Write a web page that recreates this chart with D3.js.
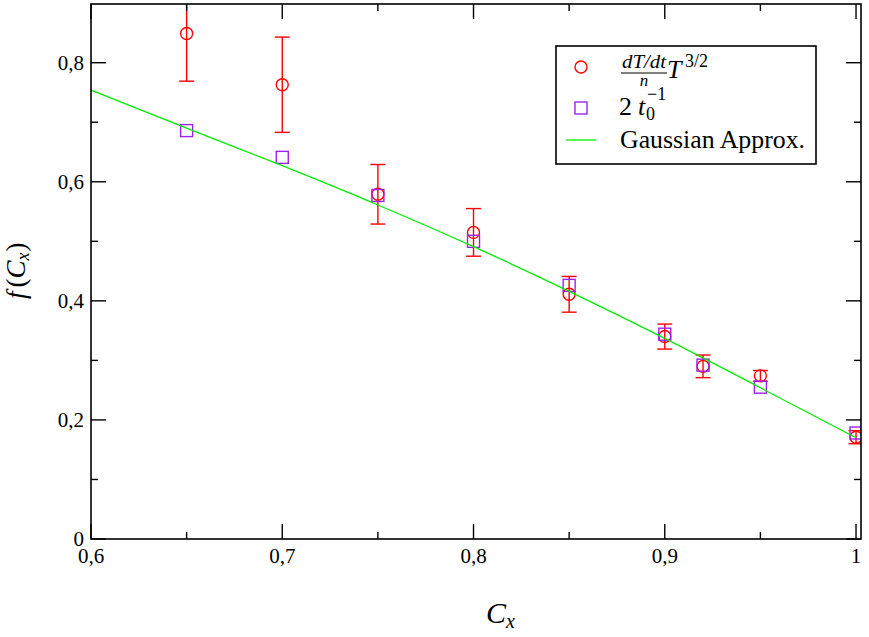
<html>
<head>
<meta charset="utf-8">
<script src="https://cdnjs.cloudflare.com/ajax/libs/d3/7.8.5/d3.min.js"></script>
<style>
  body { margin: 0; background: #fff; }
  text { font-family: "Liberation Serif", "DejaVu Serif", serif; }
</style>
</head>
<body>
<svg id="chart" width="869" height="637"></svg>
<script>
// measured values
var cx = [0.65, 0.70, 0.75, 0.80, 0.85, 0.90, 0.92, 0.95, 1.00];
var rate = [0.849, 0.763, 0.579, 0.515, 0.411, 0.340, 0.290, 0.274, 0.171];   // dT/dt / n * T^3/2
var rateErr = [0.080, 0.080, 0.050, 0.040, 0.030, 0.021, 0.019, 0.009, 0.011];
var invT0 = [0.686, 0.641, 0.577, 0.500, 0.426, 0.344, 0.292, 0.255, 0.178];  // 2 / t0

// gaussian approximation curve
var gx = [0.60, 0.65, 0.70, 0.75, 0.80, 0.85, 0.90, 0.95, 1.00];
var gy = [0.754, 0.690, 0.627, 0.561, 0.491, 0.416, 0.337, 0.254, 0.170];

var xMajor = [0.6, 0.7, 0.8, 0.9, 1.0];
var xMinor = [0.65, 0.75, 0.85, 0.95];
var yMajor = [0, 0.2, 0.4, 0.6, 0.8];
var yMinor = [0.1, 0.3, 0.5, 0.7];

var svg = d3.select("#chart");
var pl = 91, pt = 4, pr = 861, pb = 539;

var x = d3.scaleLinear().domain([0.6, 1.0026]).range([pl, pr]);
var y = d3.scaleLinear().domain([0, 0.8986]).range([pb, pt]);

var fmt = d => d == 0 ? "0" : d == 1 ? "1" : d3.format(".1f")(d).replace(".", ",");

svg.append("clipPath").attr("id", "clip")
    .append("rect").attr("x", pl).attr("y", pt)
    .attr("width", pr - pl).attr("height", pb - pt);

var plot = svg.append("g").attr("clip-path", "url(#clip)");

// error bars + circles
var eb = plot.selectAll("g.err").data(cx).enter().append("g")
    .attr("stroke", "#ff0000").attr("stroke-width", 1.4);
eb.append("line")
    .attr("x1", d => x(d)).attr("x2", d => x(d))
    .attr("y1", (d, i) => y(rate[i] + rateErr[i]))
    .attr("y2", (d, i) => y(rate[i] - rateErr[i]));
eb.append("line")
    .attr("x1", d => x(d) - 7.5).attr("x2", d => x(d) + 7.5)
    .attr("y1", (d, i) => y(rate[i] + rateErr[i]))
    .attr("y2", (d, i) => y(rate[i] + rateErr[i]));
eb.append("line")
    .attr("x1", d => x(d) - 7.5).attr("x2", d => x(d) + 7.5)
    .attr("y1", (d, i) => y(rate[i] - rateErr[i]))
    .attr("y2", (d, i) => y(rate[i] - rateErr[i]));
eb.append("circle")
    .attr("cx", d => x(d)).attr("cy", (d, i) => y(rate[i]))
    .attr("r", 6).attr("fill", "none");

// squares
plot.selectAll("rect.sq").data(cx).enter().append("rect")
    .attr("x", d => x(d) - 6).attr("y", (d, i) => y(invT0[i]) - 6)
    .attr("width", 12).attr("height", 12)
    .attr("fill", "none").attr("stroke", "#a020f0").attr("stroke-width", 1.4);

// green line
var line = d3.line().x(d => x(d)).y((d, i) => y(gy[i])).curve(d3.curveMonotoneX);
plot.append("path").datum(gx).attr("d", line)
    .attr("fill", "none").attr("stroke", "#00ee00").attr("stroke-width", 1.3);

// frame
svg.append("rect").attr("x", pl).attr("y", pt)
    .attr("width", pr - pl).attr("height", pb - pt)
    .attr("fill", "none").attr("stroke", "#000").attr("stroke-width", 1.6);

// ticks, inward on all sides
var tk = svg.append("g").attr("stroke", "#000").attr("stroke-width", 1.4);
function xt(vals, len) {
    vals.forEach(function(v) {
        tk.append("line").attr("x1", x(v)).attr("x2", x(v)).attr("y1", pb).attr("y2", pb - len);
        tk.append("line").attr("x1", x(v)).attr("x2", x(v)).attr("y1", pt).attr("y2", pt + len);
    });
}
function yt(vals, len) {
    vals.forEach(function(v) {
        tk.append("line").attr("y1", y(v)).attr("y2", y(v)).attr("x1", pl).attr("x2", pl + len);
        tk.append("line").attr("y1", y(v)).attr("y2", y(v)).attr("x1", pr).attr("x2", pr - len);
    });
}
xt(xMajor, 15); xt(xMinor, 7);
yt(yMajor, 15); yt(yMinor, 7);

svg.selectAll("text.xl").data(xMajor).enter().append("text")
    .attr("x", d => x(d)).attr("y", 563).attr("text-anchor", "middle")
    .attr("font-size", 21).text(fmt);
svg.selectAll("text.yl").data(yMajor).enter().append("text")
    .attr("x", 84).attr("y", d => y(d)).attr("dy", "0.35em").attr("text-anchor", "end")
    .attr("font-size", 21).text(fmt);

// axis titles
var xtitle = svg.append("text").attr("x", 486).attr("y", 623).attr("font-size", 30);
xtitle.append("tspan").attr("font-style", "italic").text("C");
xtitle.append("tspan").attr("font-style", "italic").attr("font-size", 20).attr("dy", 5).text("x");

var ytitle = svg.append("text").attr("transform", "translate(25,299) rotate(-90)").attr("font-size", 27);
ytitle.append("tspan").attr("font-style", "italic").text("f");
ytitle.append("tspan").attr("dx", 4).text("(");
ytitle.append("tspan").attr("font-style", "italic").text("C");
ytitle.append("tspan").attr("font-style", "italic").attr("font-size", 18).attr("dy", 4).text("x");
ytitle.append("tspan").attr("dy", -4).attr("dx", 1).text(")");

// legend
var lg = svg.append("g");
lg.append("rect").attr("x", 556).attr("y", 46).attr("width", 260).attr("height", 118)
    .attr("fill", "#fff").attr("stroke", "#000").attr("stroke-width", 1.6);
lg.append("circle").attr("cx", 581).attr("cy", 67).attr("r", 6)
    .attr("fill", "none").attr("stroke", "#ff0000").attr("stroke-width", 1.4);
lg.append("rect").attr("x", 575).attr("y", 102).attr("width", 12).attr("height", 12)
    .attr("fill", "none").attr("stroke", "#a020f0").attr("stroke-width", 1.4);
lg.append("line").attr("x1", 566).attr("x2", 596).attr("y1", 140).attr("y2", 140)
    .attr("stroke", "#00ee00").attr("stroke-width", 1.3);

// fraction dT/dt over n, times T^(3/2)
lg.append("text").attr("x", 644).attr("y", 68).attr("text-anchor", "middle")
    .attr("font-size", 18).attr("font-style", "italic")
    .attr("textLength", 44).attr("lengthAdjust", "spacingAndGlyphs").text("dT/dt");
lg.append("line").attr("x1", 621).attr("x2", 667).attr("y1", 73).attr("y2", 73)
    .attr("stroke", "#000").attr("stroke-width", 1);
lg.append("text").attr("x", 644).attr("y", 86).attr("text-anchor", "middle")
    .attr("font-size", 17).attr("font-style", "italic").text("n");
lg.append("text").attr("x", 667).attr("y", 78).attr("font-size", 26).attr("font-style", "italic").text("T");
lg.append("text").attr("x", 685).attr("y", 67).attr("font-size", 18).text("3/2");

// 2 t0^-1
lg.append("text").attr("x", 619).attr("y", 115).attr("font-size", 26).text("2");
lg.append("text").attr("x", 638).attr("y", 115).attr("font-size", 26).attr("font-style", "italic").text("t");
lg.append("text").attr("x", 647).attr("y", 100).attr("font-size", 18).text("\u22121");
lg.append("text").attr("x", 646).attr("y", 120).attr("font-size", 18).text("0");

lg.append("text").attr("x", 620).attr("y", 148).attr("font-size", 25)
    .attr("textLength", 185).attr("lengthAdjust", "spacingAndGlyphs").text("Gaussian Approx.");
</script>
</body>
</html>
